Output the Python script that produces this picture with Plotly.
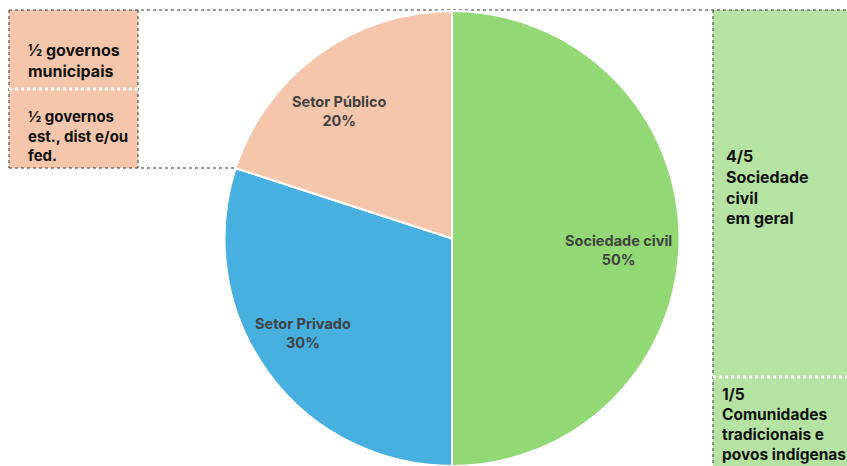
import plotly.graph_objects as go

W, H = 847, 466

# Data
categories = ["Sociedade civil", "Setor Privado", "Setor Público"]
values = [50, 30, 20]
colors = ["#92D976", "#47B0E0", "#F5C6AB"]

left_box_texts = ["½ governos<br>municipais", "½ governos<br>est., dist e/ou<br>fed."]
right_box_texts = ["4/5<br>Sociedade<br>civil<br>em geral", "1/5<br>Comunidades<br>tradicionais e<br>povos indígenas"]

FONT = "Inter, Open Sans, sans-serif"

def px(x):
    return x / W

def py(y):
    return 1 - y / H

fig = go.Figure()
fig.add_trace(go.Pie(
    labels=categories,
    values=values,
    sort=False,
    direction="clockwise",
    rotation=0,
    marker=dict(colors=colors, line=dict(color="white", width=2)),
    textinfo="none",
    hoverinfo="label+percent",
    showlegend=False,
    domain=dict(x=[px(223), px(681)], y=[0, py(11)]),
))

total = sum(values)
label_pos = {"Sociedade civil": (618, 250), "Setor Privado": (303, 333), "Setor Público": (339, 111)}
annotations = []
for c, v in zip(categories, values):
    x, y = label_pos[c]
    annotations.append(dict(
        x=px(x), y=py(y), xref="paper", yref="paper", showarrow=False,
        text=f"<b>{c}</b><br><b>{round(100 * v / total)}%</b>",
        font=dict(family=FONT, size=14.5, color="#404040"),
        align="center", xanchor="center", yanchor="middle",
    ))

# left box texts
annotations.append(dict(x=px(26), y=py(61), xref="paper", yref="paper", showarrow=False,
                        text="<b>" + left_box_texts[0] + "</b>", align="left",
                        xanchor="left", yanchor="middle",
                        font=dict(family=FONT, size=16, color="#111111")))
annotations.append(dict(x=px(26), y=py(136), xref="paper", yref="paper", showarrow=False,
                        text="<b>" + left_box_texts[1] + "</b>", align="left",
                        xanchor="left", yanchor="middle",
                        font=dict(family=FONT, size=15, color="#111111")))
# right box texts
annotations.append(dict(x=px(724), y=py(187), xref="paper", yref="paper", showarrow=False,
                        text="<b>" + right_box_texts[0] + "</b>", align="left",
                        xanchor="left", yanchor="middle",
                        font=dict(family=FONT, size=16, color="#111111")))
annotations.append(dict(x=px(720), y=py(424), xref="paper", yref="paper", showarrow=False,
                        text="<b>" + right_box_texts[1] + "</b>", align="left",
                        xanchor="left", yanchor="middle",
                        font=dict(family=FONT, size=15.5, color="#111111")))

shapes = [
    # left box fill
    dict(type="rect", xref="paper", yref="paper", x0=px(9), x1=px(138), y0=py(168), y1=py(10),
         fillcolor="#F5C6AB", line=dict(width=0), layer="below"),
    # right box fill
    dict(type="rect", xref="paper", yref="paper", x0=px(713), x1=px(850), y0=py(470), y1=py(10),
         fillcolor="#B5E3A2", line=dict(width=0), layer="below"),
    # dotted borders
    dict(type="line", xref="paper", yref="paper", x0=px(9), x1=px(847), y0=py(10), y1=py(10),
         line=dict(color="#333333", width=1, dash="dot"), layer="below"),
    dict(type="line", xref="paper", yref="paper", x0=px(9), x1=px(238), y0=py(168), y1=py(168),
         line=dict(color="#333333", width=1, dash="dot"), layer="below"),
    dict(type="line", xref="paper", yref="paper", x0=px(9), x1=px(9), y0=py(10), y1=py(168),
         line=dict(color="#333333", width=1, dash="dot"), layer="below"),
    dict(type="line", xref="paper", yref="paper", x0=px(138), x1=px(138), y0=py(10), y1=py(168),
         line=dict(color="#333333", width=1, dash="dot"), layer="below"),
    dict(type="line", xref="paper", yref="paper", x0=px(713), x1=px(713), y0=py(10), y1=py(470),
         line=dict(color="#333333", width=1, dash="dot"), layer="below"),
    # white dotted separators
    dict(type="line", xref="paper", yref="paper", x0=px(9), x1=px(138), y0=py(89), y1=py(89),
         line=dict(color="white", width=3, dash="dot"), layer="above"),
    dict(type="line", xref="paper", yref="paper", x0=px(713), x1=px(847), y0=py(377), y1=py(377),
         line=dict(color="white", width=3, dash="dot"), layer="above"),
]

fig.update_layout(
    width=W, height=H,
    margin=dict(l=0, r=0, t=0, b=0),
    paper_bgcolor="white", plot_bgcolor="white",
    annotations=annotations,
    shapes=shapes,
    showlegend=False,
)

fig.write_html("out.html",
               config={"displayModeBar": False},
               post_script="document.body.style.margin='0';document.body.style.overflow='hidden';")
